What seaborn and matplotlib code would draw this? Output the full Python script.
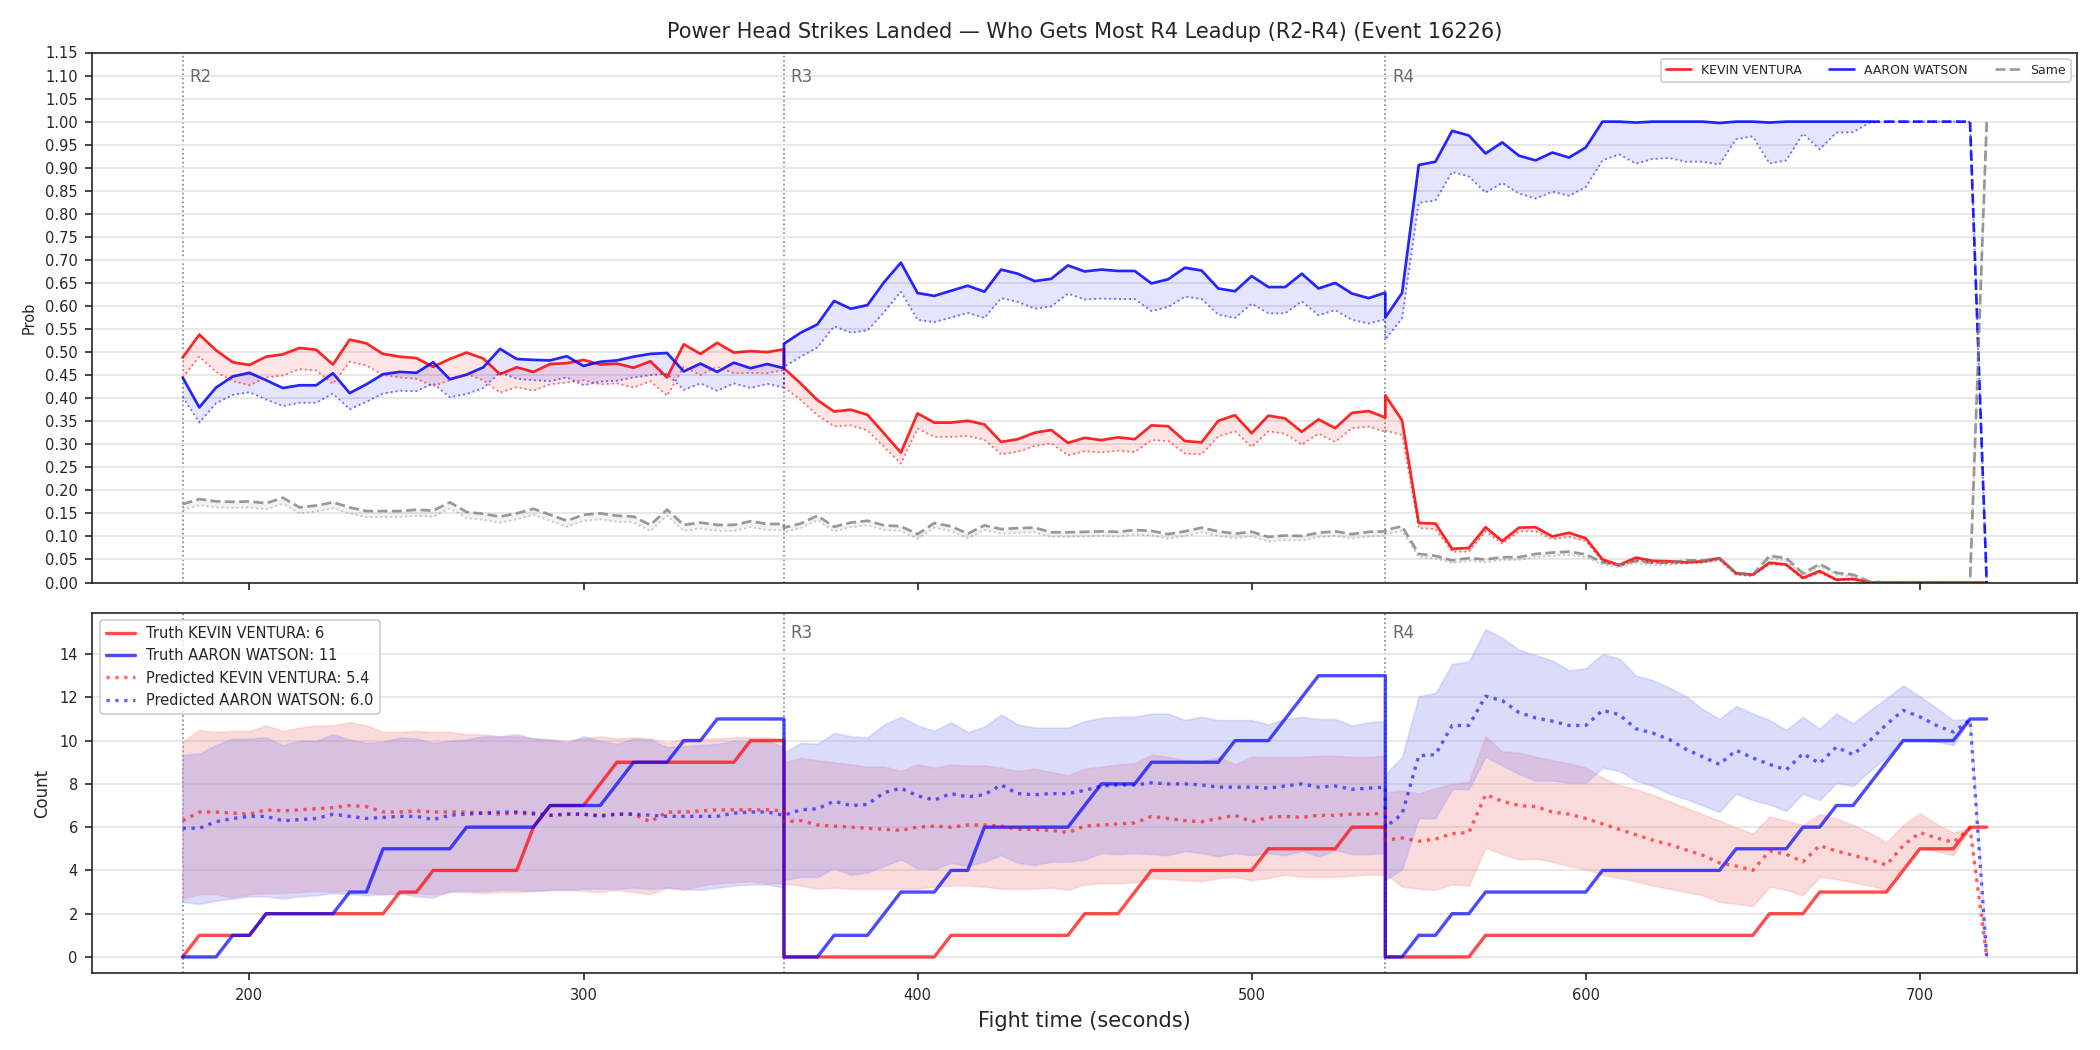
import seaborn as sns
import matplotlib.pyplot as plt
import pandas as pd

########################################################
# Data (one point every 5 s, rounds share their boundary second)
########################################################
t = list(range(180, 365, 5)) + list(range(360, 545, 5)) + list(range(540, 725, 5))
rounds = [(180, 'R2'), (360, 'R3'), (540, 'R4')]
red_name = 'KEVIN VENTURA'
blue_name = 'AARON WATSON'
truth_red_final = 6
truth_blue_final = 11
pred_red_final = 5.4
pred_blue_final = 6.0

# top panel: win probability (solid) and lower estimate (dotted)
p_red = [0.488, 0.538, 0.504, 0.478, 0.472, 0.490, 0.495, 0.509, 0.505, 0.473, 0.527, 0.519, 0.496, 0.490, 0.487, 0.468, 0.485, 0.499, 0.486, 0.452, 0.467, 0.457, 0.474, 0.476, 0.483, 0.473, 0.475, 0.466, 0.480, 0.445, 0.517, 0.496, 0.520, 0.499, 0.502, 0.500, 0.506,
         0.465, 0.432, 0.396, 0.371, 0.375, 0.364, 0.323, 0.282, 0.367, 0.347, 0.347, 0.351, 0.343, 0.305, 0.311, 0.325, 0.331, 0.303, 0.314, 0.309, 0.315, 0.311, 0.341, 0.339, 0.307, 0.304, 0.351, 0.363, 0.324, 0.362, 0.356, 0.327, 0.354, 0.335, 0.368, 0.372, 0.358,
         0.406, 0.352, 0.129, 0.128, 0.073, 0.075, 0.120, 0.090, 0.119, 0.120, 0.100, 0.108, 0.096, 0.050, 0.038, 0.054, 0.047, 0.046, 0.044, 0.046, 0.053, 0.020, 0.017, 0.043, 0.039, 0.010, 0.025, 0.006, 0.008, 0.0, 0.0, 0.0, 0.0, 0.0, 0.0, 0.0, 0.0]
p_red_lo = [0.445, 0.490, 0.457, 0.437, 0.428, 0.445, 0.449, 0.463, 0.460, 0.431, 0.479, 0.471, 0.450, 0.445, 0.442, 0.426, 0.439, 0.452, 0.439, 0.412, 0.424, 0.416, 0.430, 0.434, 0.439, 0.430, 0.432, 0.423, 0.437, 0.405, 0.468, 0.450, 0.468, 0.454, 0.455, 0.454, 0.461,
            0.424, 0.396, 0.363, 0.339, 0.341, 0.330, 0.294, 0.258, 0.334, 0.316, 0.316, 0.318, 0.310, 0.278, 0.284, 0.296, 0.302, 0.276, 0.285, 0.282, 0.286, 0.283, 0.309, 0.307, 0.280, 0.278, 0.317, 0.328, 0.294, 0.328, 0.323, 0.299, 0.323, 0.305, 0.335, 0.338, 0.327,
            0.330, 0.320, 0.118, 0.116, 0.067, 0.067, 0.111, 0.084, 0.111, 0.111, 0.094, 0.099, 0.090, 0.046, 0.035, 0.049, 0.043, 0.042, 0.041, 0.043, 0.050, 0.017, 0.015, 0.040, 0.037, 0.008, 0.021, 0.005, 0.006, 0.0, 0.0, 0.0, 0.0, 0.0, 0.0, 0.0, 0.0]
p_blue = [0.445, 0.380, 0.423, 0.447, 0.455, 0.439, 0.422, 0.428, 0.428, 0.454, 0.411, 0.430, 0.452, 0.457, 0.455, 0.478, 0.441, 0.451, 0.467, 0.507, 0.485, 0.483, 0.482, 0.491, 0.470, 0.479, 0.482, 0.490, 0.496, 0.498, 0.458, 0.475, 0.457, 0.477, 0.465, 0.474, 0.465,
          0.518, 0.542, 0.560, 0.611, 0.594, 0.602, 0.652, 0.694, 0.628, 0.622, 0.633, 0.644, 0.631, 0.679, 0.670, 0.654, 0.659, 0.688, 0.675, 0.679, 0.676, 0.676, 0.649, 0.658, 0.683, 0.677, 0.638, 0.632, 0.665, 0.641, 0.641, 0.670, 0.638, 0.650, 0.627, 0.617, 0.629,
          0.575, 0.628, 0.906, 0.913, 0.980, 0.970, 0.931, 0.955, 0.926, 0.916, 0.933, 0.922, 0.944, 1.0, 1.0, 0.998, 1.0, 1.0, 1.0, 1.0, 0.997, 1.0, 1.0, 0.998, 1.0, 1.0, 1.0, 1.0, 1.0, 1.0, 1.0, 1.0, 1.0, 1.0, 1.0, 1.0, 0.0]
p_blue_lo = [0.403, 0.347, 0.389, 0.407, 0.413, 0.397, 0.383, 0.390, 0.390, 0.410, 0.376, 0.392, 0.410, 0.416, 0.415, 0.432, 0.402, 0.409, 0.422, 0.456, 0.442, 0.439, 0.437, 0.445, 0.428, 0.436, 0.438, 0.445, 0.450, 0.453, 0.418, 0.432, 0.416, 0.432, 0.422, 0.431, 0.423,
             0.468, 0.490, 0.510, 0.556, 0.542, 0.547, 0.587, 0.631, 0.570, 0.565, 0.575, 0.585, 0.574, 0.617, 0.609, 0.594, 0.599, 0.627, 0.614, 0.616, 0.615, 0.615, 0.589, 0.598, 0.620, 0.615, 0.581, 0.574, 0.605, 0.584, 0.584, 0.610, 0.580, 0.591, 0.570, 0.562, 0.571,
             0.527, 0.573, 0.824, 0.829, 0.891, 0.881, 0.846, 0.867, 0.844, 0.833, 0.848, 0.839, 0.858, 0.916, 0.929, 0.909, 0.919, 0.921, 0.913, 0.913, 0.907, 0.962, 0.968, 0.909, 0.916, 0.974, 0.940, 0.976, 0.977, 0.998, 1.0, 1.0, 1.0, 1.0, 1.0, 1.0, 0.0]
p_same = [0.170, 0.181, 0.176, 0.175, 0.176, 0.172, 0.184, 0.163, 0.167, 0.174, 0.163, 0.155, 0.155, 0.155, 0.158, 0.156, 0.174, 0.153, 0.149, 0.143, 0.150, 0.160, 0.147, 0.134, 0.147, 0.150, 0.145, 0.143, 0.125, 0.158, 0.125, 0.130, 0.125, 0.125, 0.133, 0.127, 0.127,
          0.119, 0.128, 0.145, 0.121, 0.130, 0.134, 0.124, 0.122, 0.105, 0.129, 0.122, 0.106, 0.124, 0.116, 0.118, 0.119, 0.109, 0.109, 0.110, 0.111, 0.110, 0.114, 0.112, 0.105, 0.111, 0.119, 0.111, 0.106, 0.110, 0.099, 0.102, 0.101, 0.108, 0.111, 0.105, 0.110, 0.111,
          0.114, 0.122, 0.062, 0.058, 0.048, 0.053, 0.050, 0.055, 0.055, 0.062, 0.065, 0.067, 0.061, 0.044, 0.038, 0.047, 0.043, 0.043, 0.048, 0.048, 0.052, 0.021, 0.017, 0.058, 0.053, 0.020, 0.040, 0.021, 0.017, 0.002, 0.0, 0.0, 0.0, 0.0, 0.0, 0.0, 1.0]
p_same_lo = [0.157, 0.168, 0.163, 0.162, 0.163, 0.159, 0.171, 0.150, 0.154, 0.161, 0.150, 0.142, 0.142, 0.142, 0.145, 0.143, 0.161, 0.140, 0.136, 0.130, 0.137, 0.147, 0.134, 0.121, 0.134, 0.137, 0.132, 0.130, 0.112, 0.145, 0.112, 0.117, 0.112, 0.112, 0.120, 0.114, 0.114,
             0.109, 0.118, 0.135, 0.111, 0.120, 0.124, 0.114, 0.112, 0.095, 0.119, 0.112, 0.096, 0.114, 0.106, 0.108, 0.109, 0.099, 0.099, 0.100, 0.101, 0.100, 0.104, 0.102, 0.095, 0.101, 0.109, 0.101, 0.096, 0.100, 0.089, 0.092, 0.091, 0.098, 0.101, 0.095, 0.100, 0.101,
             0.105, 0.112, 0.055, 0.052, 0.042, 0.047, 0.044, 0.049, 0.049, 0.055, 0.058, 0.060, 0.055, 0.039, 0.033, 0.042, 0.038, 0.038, 0.043, 0.043, 0.047, 0.017, 0.013, 0.052, 0.047, 0.016, 0.035, 0.017, 0.013, 0.0, 0.0, 0.0, 0.0, 0.0, 0.0, 0.0, 1.0]

# bottom panel: cumulative counts per round
truth_red = [0, 1, 1, 1, 1, 2, 2, 2, 2, 2, 2, 2, 2, 3, 3, 4, 4, 4, 4, 4, 4, 6, 7, 7, 7, 8, 9, 9, 9, 9, 9, 9, 9, 9, 10, 10, 10,
             0, 0, 0, 0, 0, 0, 0, 0, 0, 0, 1, 1, 1, 1, 1, 1, 1, 1, 2, 2, 2, 3, 4, 4, 4, 4, 4, 4, 4, 5, 5, 5, 5, 5, 6, 6, 6,
             0, 0, 0, 0, 0, 0, 1, 1, 1, 1, 1, 1, 1, 1, 1, 1, 1, 1, 1, 1, 1, 1, 1, 2, 2, 2, 3, 3, 3, 3, 3, 4, 5, 5, 5, 6, 6]
truth_blue = [0, 0, 0, 1, 1, 2, 2, 2, 2, 2, 3, 3, 5, 5, 5, 5, 5, 6, 6, 6, 6, 6, 7, 7, 7, 7, 8, 9, 9, 9, 10, 10, 11, 11, 11, 11, 11,
              0, 0, 0, 1, 1, 1, 2, 3, 3, 3, 4, 4, 6, 6, 6, 6, 6, 6, 7, 8, 8, 8, 9, 9, 9, 9, 9, 10, 10, 10, 11, 12, 13, 13, 13, 13, 13,
              0, 0, 1, 1, 2, 2, 3, 3, 3, 3, 3, 3, 3, 4, 4, 4, 4, 4, 4, 4, 4, 5, 5, 5, 5, 6, 6, 7, 7, 8, 9, 10, 10, 10, 10, 11, 11]
pred_red = [6.3, 6.7, 6.7, 6.65, 6.6, 6.8, 6.75, 6.8, 6.85, 6.9, 7.0, 6.95, 6.7, 6.7, 6.75, 6.7, 6.7, 6.7, 6.65, 6.6, 6.65, 6.6, 6.55, 6.6, 6.6, 6.55, 6.6, 6.6, 6.25, 6.7, 6.7, 6.75, 6.8, 6.8, 6.8, 6.8, 6.75,
            6.25, 6.3, 6.1, 6.05, 6.0, 5.95, 5.9, 5.85, 6.0, 6.05, 6.0, 6.1, 6.1, 6.05, 5.9, 5.9, 5.85, 5.75, 6.05, 6.1, 6.15, 6.2, 6.5, 6.4, 6.3, 6.25, 6.4, 6.55, 6.25, 6.45, 6.5, 6.45, 6.55, 6.55, 6.6, 6.6, 6.65,
            5.4, 5.5, 5.35, 5.45, 5.7, 5.75, 7.5, 7.2, 7.0, 6.95, 6.7, 6.6, 6.4, 6.15, 5.9, 5.65, 5.4, 5.2, 4.95, 4.7, 4.35, 4.2, 4.0, 4.9, 4.75, 4.4, 5.15, 4.9, 4.7, 4.5, 4.25, 5.15, 5.75, 5.5, 5.3, 5.95, 0.0]
pred_blue = [5.95, 5.95, 6.25, 6.4, 6.5, 6.5, 6.3, 6.35, 6.4, 6.6, 6.5, 6.4, 6.45, 6.5, 6.5, 6.35, 6.55, 6.6, 6.65, 6.7, 6.7, 6.65, 6.55, 6.6, 6.6, 6.5, 6.6, 6.6, 6.55, 6.5, 6.5, 6.5, 6.5, 6.65, 6.7, 6.7, 6.55,
             6.55, 6.8, 6.85, 7.2, 7.0, 7.05, 7.6, 7.8, 7.45, 7.25, 7.55, 7.4, 7.5, 7.95, 7.55, 7.5, 7.55, 7.55, 7.7, 7.9, 7.95, 7.95, 8.05, 8.0, 8.0, 7.95, 7.85, 7.85, 7.85, 7.8, 7.9, 8.0, 7.85, 7.9, 7.75, 7.8, 7.85,
             6.0, 6.6, 9.3, 9.35, 10.7, 10.7, 12.05, 11.85, 11.3, 11.05, 10.9, 10.7, 10.7, 11.4, 11.2, 10.55, 10.35, 10.05, 9.6, 9.25, 8.9, 9.55, 9.2, 8.9, 8.65, 9.4, 8.95, 9.7, 9.35, 10.0, 10.75, 11.4, 11.1, 10.7, 10.4, 10.95, 0.0]
red_hi = [9.95, 10.5, 10.4, 10.45, 10.45, 10.7, 10.45, 10.6, 10.7, 10.7, 10.85, 10.7, 10.4, 10.4, 10.45, 10.4, 10.4, 10.3, 10.3, 10.2, 10.2, 10.1, 10.05, 10.0, 10.1, 10.2, 10.1, 10.15, 10.1, 9.9, 10.1, 10.1, 10.1, 10.15, 10.15, 10.15, 10.1,
          9.0, 9.2, 9.1, 9.0, 8.9, 8.8, 8.8, 8.6, 8.9, 8.75, 8.9, 8.85, 8.85, 8.75, 8.6, 8.7, 8.55, 8.4, 8.7, 8.8, 8.9, 8.95, 9.35, 9.25, 9.1, 9.05, 9.25, 8.9, 9.25, 9.25, 9.25, 9.25, 9.3, 9.3, 9.25, 9.25, 9.3,
          7.6, 7.7, 7.55, 7.8, 8.0, 8.1, 10.2, 9.5, 9.45, 9.25, 9.1, 8.95, 8.75, 8.3, 7.95, 7.75, 7.5, 7.2, 6.9, 6.6, 6.3, 6.0, 5.7, 6.5, 6.3, 6.1, 6.6, 6.4, 6.1, 5.75, 5.3, 6.1, 6.65, 6.15, 5.75, 5.95, 0.0]
red_lo = [2.7, 2.9, 2.9, 2.75, 2.9, 2.95, 2.95, 3.0, 3.05, 3.0, 3.1, 3.0, 2.9, 2.9, 2.95, 2.9, 3.0, 3.0, 2.95, 3.0, 3.0, 3.05, 3.1, 3.1, 3.05, 3.0, 3.1, 3.0, 2.9, 3.2, 3.1, 3.3, 3.4, 3.45, 3.5, 3.4, 3.4,
          3.4, 3.3, 3.15, 3.2, 3.15, 3.15, 3.15, 3.15, 3.15, 3.25, 3.3, 3.3, 3.25, 3.15, 3.15, 3.15, 3.2, 3.1, 3.35, 3.4, 3.4, 3.45, 3.65, 3.6, 3.55, 3.5, 3.65, 3.7, 3.55, 3.65, 3.8, 3.7, 3.7, 3.7, 3.75, 3.8, 3.8,
          3.85, 3.25, 3.15, 3.1, 3.35, 3.3, 5.05, 4.75, 4.5, 4.55, 4.4, 4.2, 4.05, 3.8, 3.65, 3.5, 3.3, 3.15, 3.0, 2.85, 2.55, 2.45, 2.35, 3.25, 3.1, 2.85, 3.7, 3.6, 3.45, 3.3, 3.1, 4.2, 5.0, 4.9, 4.7, 5.95, 0.0]
blue_hi = [9.35, 9.4, 9.8, 10.1, 10.1, 10.15, 9.8, 10.0, 10.0, 10.3, 10.05, 9.9, 9.95, 10.15, 10.1, 9.9, 10.0, 10.05, 10.2, 10.2, 10.3, 10.1, 10.05, 9.9, 10.2, 10.0, 9.85, 10.1, 10.05, 9.7, 9.75, 9.8, 9.85, 10.0, 9.95, 10.0, 9.7,
           9.45, 9.9, 9.85, 10.35, 10.2, 10.15, 10.75, 11.1, 10.7, 10.45, 10.85, 10.4, 10.65, 11.2, 10.75, 10.6, 10.6, 10.6, 10.9, 11.05, 11.1, 11.1, 11.25, 11.25, 10.95, 11.1, 10.95, 10.95, 10.95, 10.75, 11.0, 11.1, 11.0, 11.0, 10.7, 10.85, 10.9,
           8.45, 9.25, 12.05, 12.2, 13.55, 13.65, 15.15, 14.75, 14.2, 13.95, 13.7, 13.25, 13.35, 14.0, 13.8, 13.0, 12.8, 12.45, 12.05, 11.45, 11.0, 11.6, 11.25, 10.95, 10.5, 11.1, 10.55, 11.25, 10.8, 11.4, 11.95, 12.55, 12.05, 11.5, 10.95, 11.0, 0.0]
blue_lo = [2.55, 2.45, 2.6, 2.7, 2.8, 2.8, 2.7, 2.8, 2.85, 2.95, 2.9, 2.85, 2.9, 2.95, 2.8, 2.75, 3.05, 3.05, 3.05, 3.1, 3.1, 3.05, 3.1, 3.1, 3.15, 3.15, 3.15, 3.2, 3.15, 3.2, 3.15, 3.1, 3.2, 3.3, 3.35, 3.35, 3.2,
           3.55, 3.7, 3.7, 4.1, 3.8, 3.9, 4.2, 4.5, 4.1, 4.05, 4.35, 4.2, 4.4, 4.7, 4.35, 4.25, 4.4, 4.4, 4.5, 4.8, 4.75, 4.8, 4.75, 4.7, 4.9, 4.8, 4.65, 4.8, 4.7, 4.8, 4.7, 4.9, 4.65, 4.95, 4.75, 4.75, 4.8,
           3.55, 4.05, 6.4, 6.4, 7.75, 7.75, 9.25, 8.85, 8.45, 8.15, 8.15, 8.05, 8.05, 8.75, 8.6, 8.15, 7.9, 7.55, 7.3, 7.0, 6.7, 7.55, 7.25, 7.05, 6.75, 7.55, 7.25, 8.05, 7.9, 8.6, 9.25, 10.0, 10.0, 9.95, 9.8, 10.95, 0.0]

df = pd.DataFrame({'t': t, 'p_red': p_red, 'p_red_lo': p_red_lo, 'p_blue': p_blue,
                   'p_blue_lo': p_blue_lo, 'p_same': p_same, 'p_same_lo': p_same_lo,
                   'truth_red': truth_red, 'truth_blue': truth_blue,
                   'pred_red': pred_red, 'pred_blue': pred_blue,
                   'red_hi': red_hi, 'red_lo': red_lo, 'blue_hi': blue_hi, 'blue_lo': blue_lo})

# blue prob turns dashed once the outcome is locked in
lock = 103

########################################################
# Figure
########################################################
sns.set_style("ticks")
plt.rcParams['font.family'] = ['DejaVu Sans']
plt.rcParams['xtick.major.size'] = 3.5
plt.rcParams['ytick.major.size'] = 3.5

fig = plt.figure(figsize=(14, 7), dpi=150)
gs = fig.add_gridspec(2, 1, height_ratios=[1.47, 1], left=0.044, right=0.989,
                      top=0.950, bottom=0.073, hspace=0.068)
ax1 = fig.add_subplot(gs[0])
ax2 = fig.add_subplot(gs[1], sharex=ax1)

line_kw = dict(estimator=None, sort=False)

# ---- top: probabilities
ax1.fill_between(df['t'], df['p_red_lo'], df['p_red'], color='red', alpha=0.1, lw=0)
ax1.fill_between(df['t'], df['p_blue_lo'], df['p_blue'], color='blue', alpha=0.1, lw=0)
ax1.fill_between(df['t'], df['p_same_lo'], df['p_same'], color='gray', alpha=0.1, lw=0)

sns.lineplot(data=df, x='t', y='p_red', color='red', alpha=0.85, lw=1.3,
             label=red_name, ax=ax1, **line_kw)
sns.lineplot(data=df.iloc[:lock + 1], x='t', y='p_blue', color='blue', alpha=0.85, lw=1.3,
             label=blue_name, ax=ax1, **line_kw)
sns.lineplot(data=df.iloc[lock:], x='t', y='p_blue', color='blue', alpha=0.85, lw=1.3,
             ls='--', ax=ax1, **line_kw)
sns.lineplot(data=df, x='t', y='p_same', color='gray', alpha=0.8, lw=1.3, ls='--',
             label='Same', ax=ax1, **line_kw)
sns.lineplot(data=df, x='t', y='p_red_lo', color='red', alpha=0.55, lw=0.9, ls=':', ax=ax1, **line_kw)
sns.lineplot(data=df, x='t', y='p_blue_lo', color='blue', alpha=0.55, lw=0.9, ls=':', ax=ax1, **line_kw)
sns.lineplot(data=df, x='t', y='p_same_lo', color='gray', alpha=0.4, lw=0.9, ls=':', ax=ax1, **line_kw)

ax1.set_ylim(0, 1.15)
ax1.set_yticks([i * 0.05 for i in range(24)])
ax1.set_yticklabels([f'{i * 0.05:.2f}' for i in range(24)])
ax1.set_ylabel('Prob', fontsize=7)
ax1.set_xlabel('')
ax1.set_title('Power Head Strikes Landed — Who Gets Most R4 Leadup (R2-R4) (Event 16226)',
              fontsize=10, pad=7)
ax1.tick_params(labelbottom=False, labelsize=7)
ax1.grid(axis='y', color='#e4e4e4', lw=0.8)
ax1.legend(loc='upper right', ncol=3, fontsize=6, columnspacing=2.2)

# ---- bottom: counts
ax2.fill_between(df['t'], df['red_lo'], df['red_hi'], color='#f08080', alpha=0.28, lw=0.8,
                 edgecolor=(1, 0.6, 0.6, 0.4))
ax2.fill_between(df['t'], df['blue_lo'], df['blue_hi'], color='#8080f0', alpha=0.28, lw=0.8,
                 edgecolor=(0.6, 0.6, 1, 0.4))

sns.lineplot(data=df, x='t', y='truth_red', color='red', alpha=0.7, lw=1.6,
             label=f'Truth {red_name}: {truth_red_final}', ax=ax2, **line_kw)
sns.lineplot(data=df, x='t', y='truth_blue', color='blue', alpha=0.7, lw=1.6,
             label=f'Truth {blue_name}: {truth_blue_final}', ax=ax2, **line_kw)
sns.lineplot(data=df, x='t', y='pred_red', color='red', alpha=0.6, lw=1.6, ls=':',
             label=f'Predicted {red_name}: {pred_red_final:.1f}', ax=ax2, **line_kw)
sns.lineplot(data=df, x='t', y='pred_blue', color='blue', alpha=0.6, lw=1.6, ls=':',
             label=f'Predicted {blue_name}: {pred_blue_final:.1f}', ax=ax2, **line_kw)

ax2.set_yticks(range(0, 15, 2))
ax2.set_ylabel('Count', fontsize=8)
ax2.set_xlabel('Fight time (seconds)', fontsize=10)
ax2.tick_params(labelsize=7)
ax2.grid(axis='y', color='#e4e4e4', lw=0.8)
ax2.legend(loc='upper left', fontsize=7)

# round markers (the R2 label sits under the legend in the lower panel)
for ax in (ax1, ax2):
    for sec, name in rounds:
        ax.axvline(sec, color='gray', ls=':', lw=0.8, zorder=0)
        if ax is ax2 and sec == 180:
            continue
        ax.text(sec + 2, 0.97, name, transform=ax.get_xaxis_transform(),
                color='dimgray', fontsize=8, va='top', ha='left', zorder=1)

plt.savefig('out.png', dpi=150)
